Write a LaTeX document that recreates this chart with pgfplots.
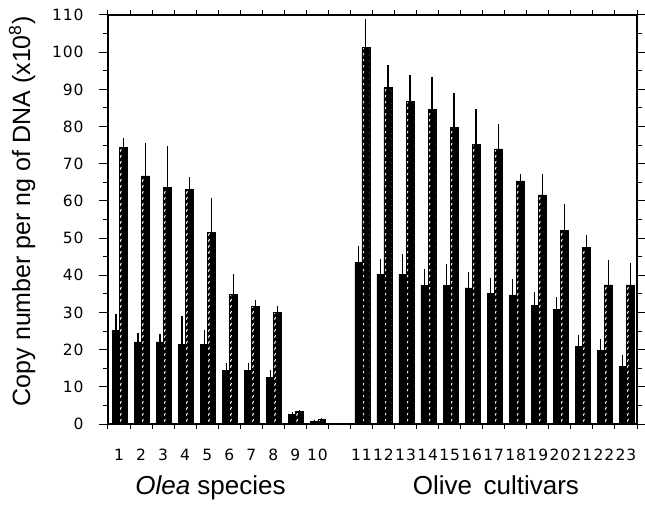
\documentclass[border=0pt]{standalone}
\usepackage{pgfplots}
\pgfplotsset{compat=1.18}
\usepackage{pgfplotstable}
\usepackage{fontspec}
\setmainfont{Liberation Sans}
\newfontfamily\tickfont{DejaVu Sans}[LetterSpace=6]
\usetikzlibrary{patterns}

\pgfdeclarepatternformonly{specks}{\pgfqpoint{-1bp}{-1bp}}{\pgfqpoint{8bp}{7bp}}{\pgfqpoint{7.35bp}{6bp}}{%
  \pgfsetlinewidth{1bp}%
  \pgfsetroundcap
  \pgfpathmoveto{\pgfqpoint{2.6bp}{1.6bp}}%
  \pgfpathlineto{\pgfqpoint{3.6bp}{3.6bp}}%
  \pgfusepath{stroke}%
}

\pgfplotstableread{
x    dark derr hat  herr
0.5  25.1 4.4  74.3 2.7
1.5  22.1 2.4  66.7 8.8
2.5  22.1 2.1  63.6 11.2
3.5  21.4 7.6  63.1 3.2
4.5  21.4 3.9  51.5 9.3
5.5  14.5 2.0  34.9 5.4
6.5  14.5 2.0  31.7 1.6
7.5  12.5 2.0  30.1 1.6
8.5  2.5  0.8  3.3  0.5
9.5  0.7  0.5  1.2  0.4
11.5 43.4 4.6  101.2 7.8
12.5 40.3 4.2  90.5 6.0
13.5 40.3 5.4  86.8 7.0
14.5 37.2 4.6  84.7 8.7
15.5 37.2 5.8  79.8 9.1
16.5 36.6 4.3  75.1 9.7
17.5 35.1 4.3  74.0 6.6
18.5 34.7 4.2  65.4 1.8
19.5 32.0 3.6  61.6 5.6
20.5 30.8 3.3  52.0 7.1
21.5 20.8 3.1  47.5 3.2
22.5 19.9 2.9  37.4 6.7
23.5 15.4 3.1  37.4 5.8
}\data

\begin{document}
\begin{tikzpicture}
\useasboundingbox (-108bp,-83bp) rectangle (537bp,424bp);
\begin{axis}[
  scale only axis,
  width=529bp, height=409bp,
  xmin=0, xmax=24, ymin=0, ymax=110,
  axis line style={line width=1.2bp},
  tick style={line width=1bp, black},
  tick align=outside,
  major tick length=9bp,
  minor tick length=4.5bp,
  xtick={0.5,1.5,2.5,3.5,4.5,5.5,6.5,7.5,8.5,9.5,11.5,12.5,13.5,14.5,15.5,16.5,17.5,18.5,19.5,20.5,21.5,22.5,23.5},
  xticklabels={1,2,3,4,5,6,7,8,9,10,11,12,13,14,15,16,17,18,19,20,21,22,23},
  major x tick style={draw=none},
  minor xtick={0,1,...,24},
  ytick={0,10,...,110},
  minor ytick={5,15,...,105},
  /pgf/number format/assume math mode=true,
  ticklabel style={font=\tickfont\fontsize{15.5bp}{15.5bp}\selectfont},
  yticklabel style={xshift=-12bp},
  xticklabel style={anchor=base, yshift=-27bp},
  clip=false,
  error bars/error bar style={line width=1.2bp, black},
]
\addplot[ybar, bar width=0.32, bar shift=0, fill=black, draw=black, line width=0.6bp,
  error bars/.cd, y dir=plus, y explicit, error mark=none]
  table[x expr=\thisrow{x}-0.14, y=dark, y error=derr]{\data};
\addplot[ybar, bar width=0.36, bar shift=0, fill=black, draw=black, line width=0.6bp,
  postaction={pattern=specks, pattern color=white},
  error bars/.cd, y dir=plus, y explicit, error mark=none]
  table[x expr=\thisrow{x}+0.2, y=hat, y error=herr]{\data};
\node[xshift=-86bp, rotate=90, font=\fontsize{25bp}{25bp}\selectfont] at (rel axis cs:0,0.52) {Copy number per ng of DNA (x10\textsuperscript{8})};
\node[anchor=base, font=\fontsize{26bp}{26bp}\selectfont] at (axis cs:4.65,0) [yshift=-70bp] {\textit{Olea} species};
\node[anchor=base, font=\fontsize{26bp}{26bp}\selectfont] at (axis cs:17.6,0) [yshift=-70bp] {Olive\, cultivars};
\end{axis}
\end{tikzpicture}
\end{document}
